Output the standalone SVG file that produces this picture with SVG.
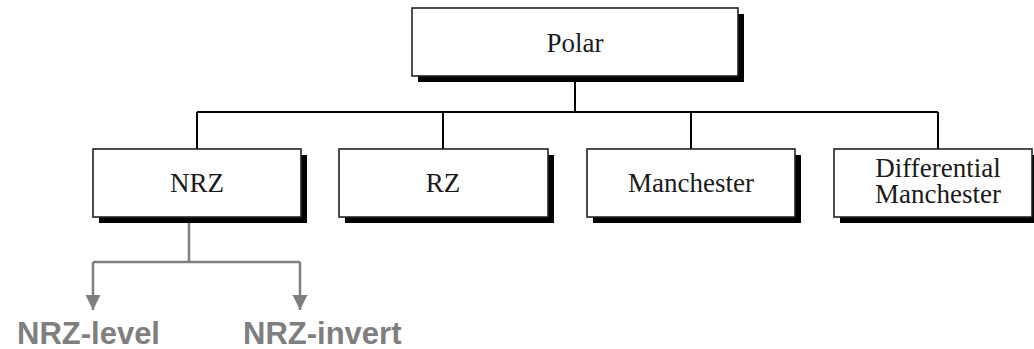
<svg xmlns="http://www.w3.org/2000/svg" width="1034" height="349" viewBox="0 0 1034 349">
<style>
.box{fill:#fff;stroke:#222;stroke-width:1.6}
.sh{fill:#000}
.lbl{font-family:"Liberation Serif","Times New Roman",serif;font-size:27px;fill:#1a1a1a;text-anchor:middle}
.ln{stroke:#000;stroke-width:2;fill:none}
.gl{stroke:#7f7f7f;stroke-width:2.5;fill:none}
.gt{font-family:"Liberation Sans",Arial,sans-serif;font-size:31px;font-weight:bold;fill:#7f7f7f}
</style>
<defs>
<marker id="ah" markerWidth="16" markerHeight="16" viewBox="0 0 16 16" refX="15" refY="8" orient="auto" markerUnits="userSpaceOnUse">
<path d="M0,0.5 L15,8 L0,15.5 Z" fill="#7f7f7f"/>
</marker>
</defs>
<g id="connectors">
<path class="ln" d="M575,76 V112 M197,112 H938 M197,112 V149 M443,112 V149 M691,112 V149 M938,112 V149"/>
<path class="gl" d="M189,223 V262 M93,262 H300"/>
<path class="gl" d="M93,262 V310" marker-end="url(#ah)"/>
<path class="gl" d="M300,262 V310" marker-end="url(#ah)"/>
</g>
<g id="polar">
<rect class="sh" x="418" y="14" width="326" height="68"/>
<rect class="box" x="412" y="8" width="326" height="68"/>
<text class="lbl" x="575" y="52">Polar</text>
</g>
<g id="nrz">
<rect class="sh" x="99" y="155" width="208" height="68"/>
<rect class="box" x="93" y="149" width="208" height="68"/>
<text class="lbl" x="197" y="192">NRZ</text>
</g>
<g id="rz">
<rect class="sh" x="345" y="155" width="209" height="68"/>
<rect class="box" x="339" y="149" width="209" height="68"/>
<text class="lbl" x="443" y="192">RZ</text>
</g>
<g id="manchester">
<rect class="sh" x="593" y="155" width="208" height="68"/>
<rect class="box" x="587" y="149" width="208" height="68"/>
<text class="lbl" x="691" y="192">Manchester</text>
</g>
<g id="diffmanchester">
<rect class="sh" x="840" y="155" width="198" height="68"/>
<rect class="box" x="834" y="149" width="198" height="68"/>
<text class="lbl" x="938" y="177">Differential<tspan x="938" dy="26">Manchester</tspan></text>
</g>
<g id="nrzlevel">
<text class="gt" x="17" y="344">NRZ-level</text>
</g>
<g id="nrzinvert">
<text class="gt" x="243" y="344">NRZ-invert</text>
</g>
</svg>
